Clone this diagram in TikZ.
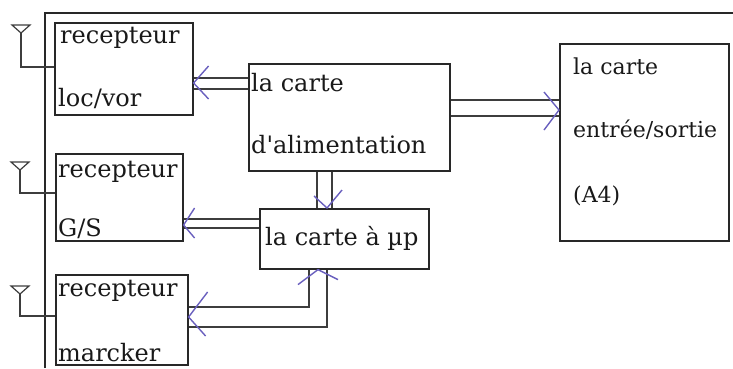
\documentclass[tikz,border=0pt]{standalone}
\usepackage{fontspec}
\setmainfont{DejaVu Serif}[Ligatures=TeXOff]
\usetikzlibrary{calc}
\definecolor{ink}{RGB}{40,40,40}
\definecolor{tipc}{RGB}{105,95,190}
\tikzset{
  box/.style={draw=ink, line width=1.6pt, rectangle, anchor=north west, inner sep=0pt},
  lbl/.style={anchor=base west, inner sep=0pt, text=black!90, font=\fontsize{24}{28}\selectfont},
  lbls/.style={anchor=base west, inner sep=0pt, text=black!90, font=\fontsize{22}{26}\selectfont},
  wire/.style={draw=ink!90, line width=1.2pt},
  tip/.style={draw=tipc, line width=1.4pt},
  frame/.style={draw=ink, line width=1.3pt},
}
\begin{document}
\begin{tikzpicture}[x=1pt,y=-1pt]
\useasboundingbox (0,0) rectangle (733,368);
% outer frame
\draw[frame] (45,368) -- (45,13) -- (733,13);
% boxes
\node[box, minimum width=138, minimum height=92] (locvor) at (54,22) {};
\node[box, minimum width=127, minimum height=87] (gs) at (55,153) {};
\node[box, minimum width=132, minimum height=90] (marcker) at (55,274) {};
\node[box, minimum width=201, minimum height=107] (alim) at (248,63) {};
\node[box, minimum width=169, minimum height=60] (mup) at (259,208) {};
\node[box, minimum width=169, minimum height=197] (es) at (559,43) {};
% labels
\node[lbl] (t1a) at (60,43) {recepteur};
\node[lbl] (t1b) at (58,106) {loc/vor};
\node[lbl] (t2a) at (58,177) {recepteur};
\node[lbl] (t2b) at (58,236) {G/S};
\node[lbl] (t3a) at (58,296) {recepteur};
\node[lbl] (t3b) at (58,361) {marcker};
\node[lbl] (t4a) at (251,91) {la carte};
\node[lbl] (t4b) at (251,153) {d'alimentation};
\node[lbl] (t5) at (265,245) {la carte à µp};
\node[lbls] (t6a) at (573,74) {la carte};
\node[lbls] (t6b) at (573,137) {entrée/sortie};
\node[lbls] (t6c) at (573,202) {(A4)};
% antennas
\coordinate (a1) at (21,33);
\coordinate (a2) at (20,170);
\coordinate (a3) at (20,294);
\foreach \a in {a1,a2,a3}{
  \draw[wire] (\a) -- ($(\a)+(-9,-8)$) -- ($(\a)+(9,-8)$) -- cycle;
}
\draw[wire] (a1) -- (a1 |- 0,67) -- (locvor.west |- 0,67);
\draw[wire] (a2) -- (a2 |- 0,193) -- (gs.west |- 0,193);
\draw[wire] (a3) -- (a3 |- 0,316) -- (marcker.west |- 0,316);
% alimentation -> loc/vor
\draw[wire] (alim.west |- 0,78) -- (locvor.east |- 0,78);
\draw[wire] (alim.west |- 0,89) -- (locvor.east |- 0,89);
\coordinate (p1) at (locvor.east |- 0,83);
\draw[tip] ($(p1)+(15,-17)$) -- (p1) -- ($(p1)+(15,16)$);
% alimentation -> entree/sortie
\draw[wire] (alim.east |- 0,100) -- (es.west |- 0,100);
\draw[wire] (alim.east |- 0,116) -- (es.west |- 0,116);
\coordinate (p2) at (es.west |- 0,110);
\draw[tip] ($(p2)+(-15,-18)$) -- (p2) -- ($(p2)+(-15,20)$);
% alimentation -> carte a up
\draw[wire] (alim.south -| 317,0) -- (mup.north -| 317,0);
\draw[wire] (alim.south -| 332,0) -- (mup.north -| 332,0);
\coordinate (p3) at (mup.north -| 327,0);
\draw[tip] ($(p3)+(-13,-12)$) -- (p3) -- ($(p3)+(15,-18)$);
% carte a up -> G/S
\draw[wire] (mup.west |- 0,219) -- (gs.east |- 0,219);
\draw[wire] (mup.west |- 0,228) -- (gs.east |- 0,228);
\coordinate (p4) at (gs.east |- 0,225);
\draw[tip] ($(p4)+(11,-17)$) -- (p4) -- ($(p4)+(11,13)$);
% marcker <-> carte a up
\draw[wire] (marcker.east |- 0,307) -- (309,307) -- (mup.south -| 309,0);
\draw[wire] (marcker.east |- 0,327) -- (327,327) -- (mup.south -| 327,0);
\coordinate (p5) at (mup.south -| 318,0);
\draw[tip] ($(p5)+(-20,15)$) -- (p5) -- ($(p5)+(20,10)$);
\coordinate (p6) at (marcker.east |- 0,317);
\draw[tip] ($(p6)+(19,-25)$) -- (p6) -- ($(p6)+(17,19)$);
\end{tikzpicture}
\end{document}
